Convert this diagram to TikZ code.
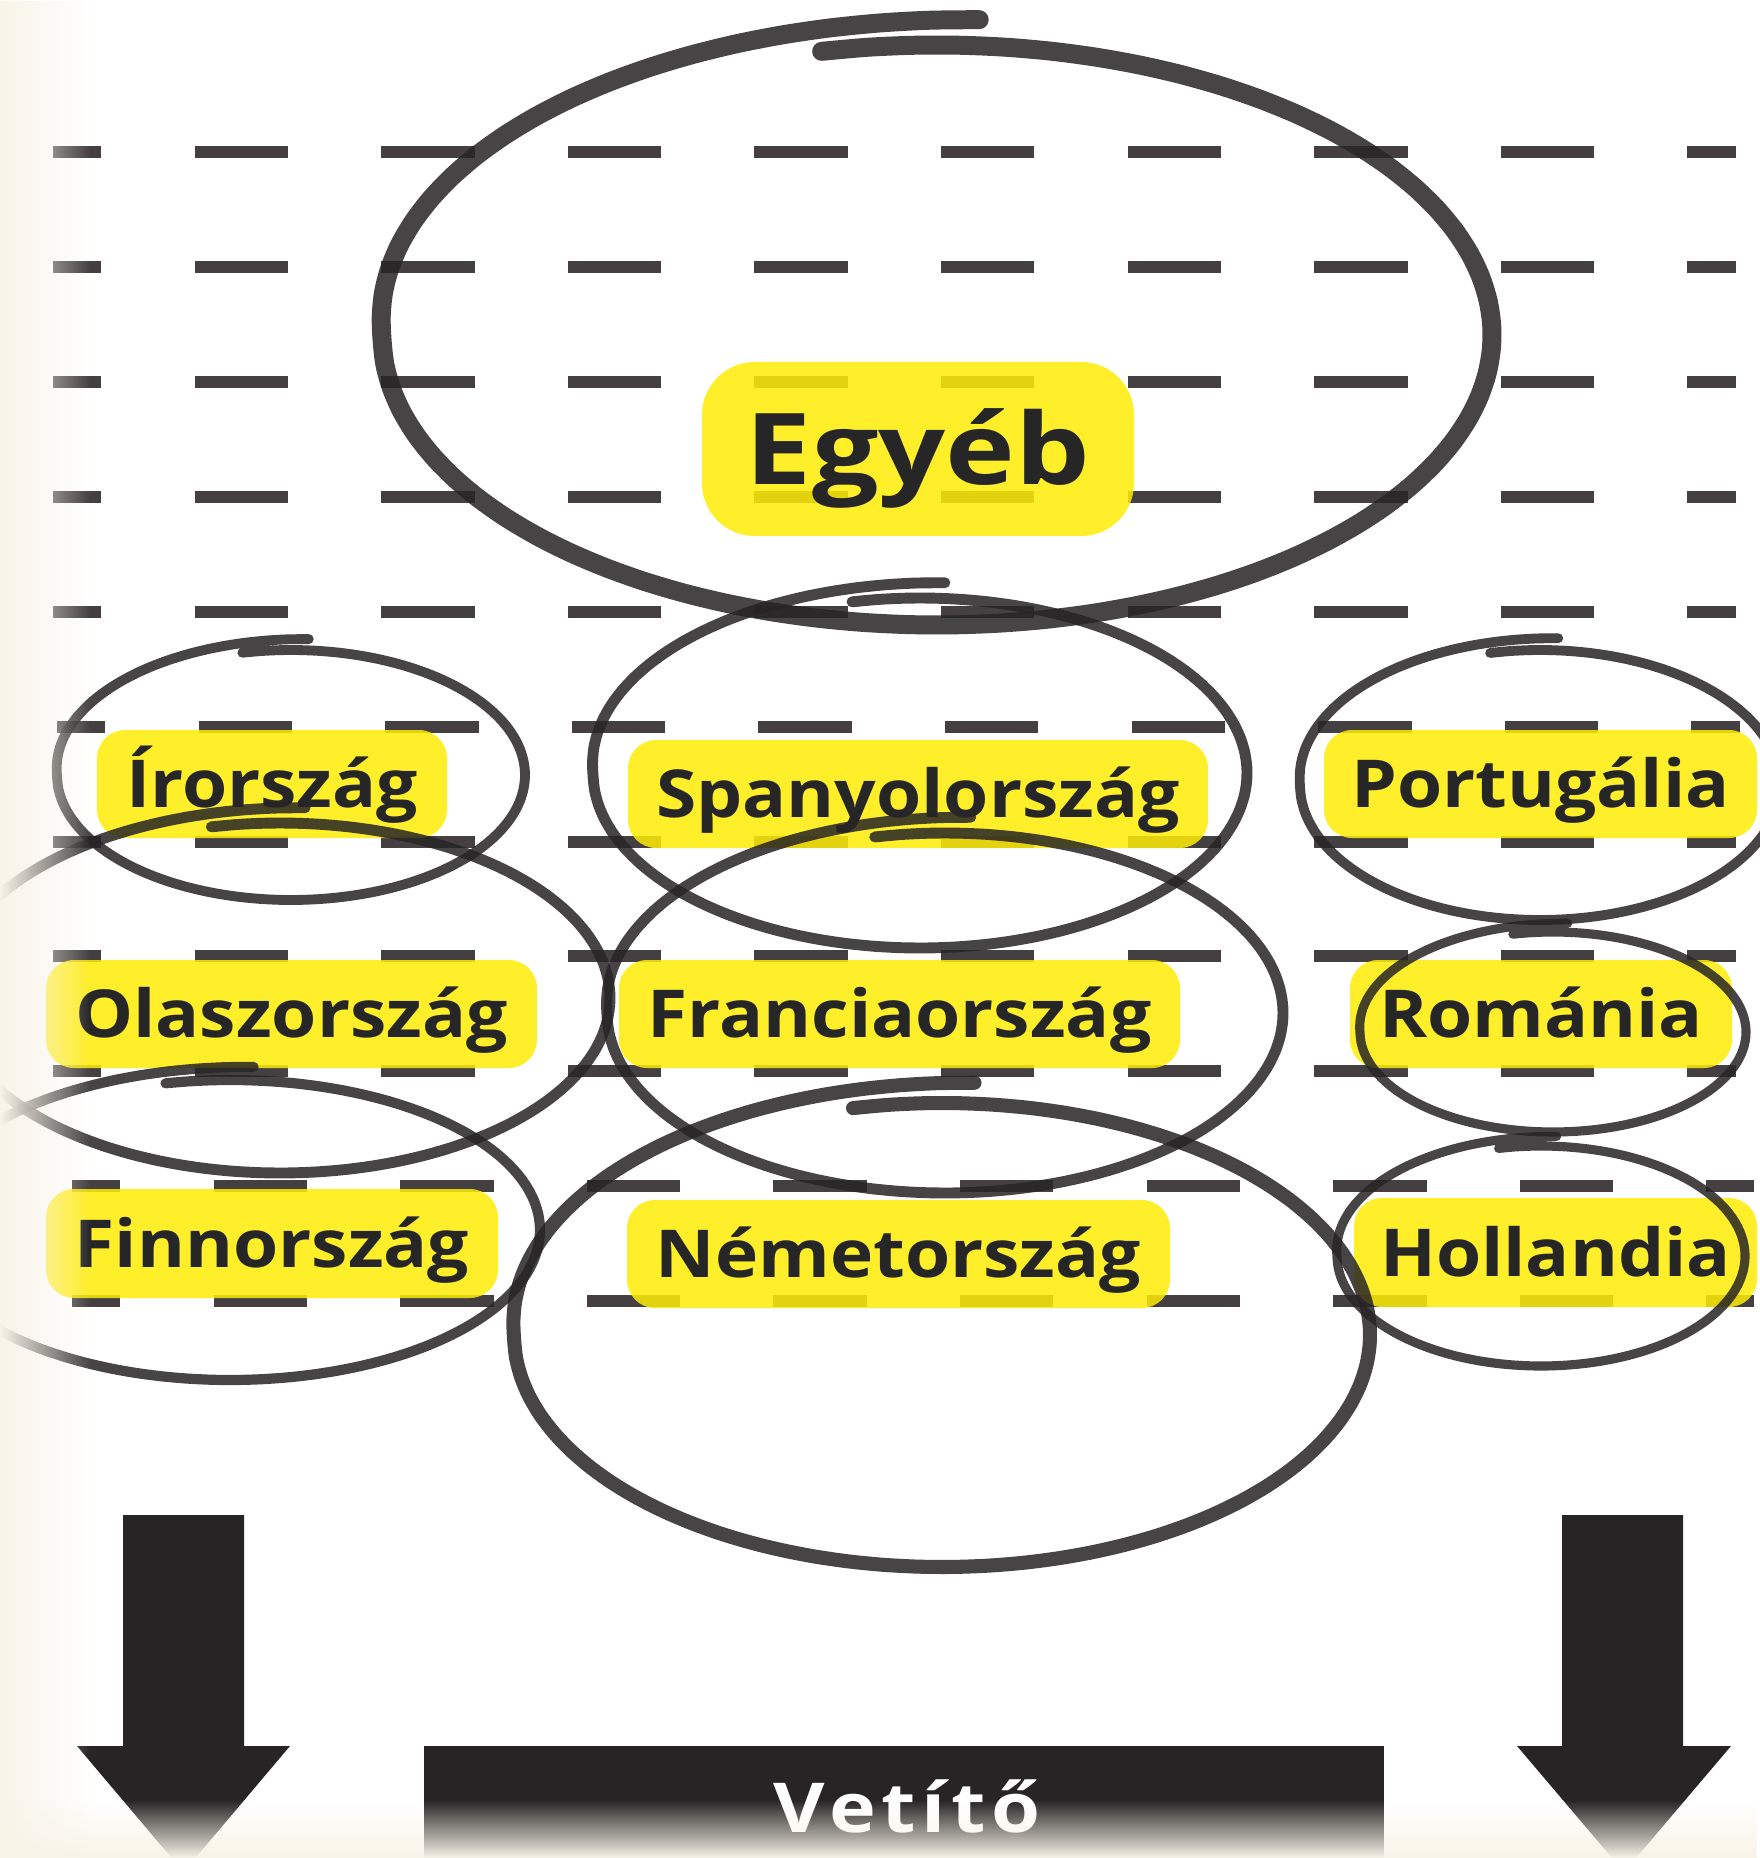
\documentclass[tikz,border=0pt]{standalone}
\usepackage{fontspec}
\setmainfont{Open Sans}
\newfontfamily\tagfont{Open Sans}[FakeStretch=1.106]
\newfontfamily\bigtagfont{Open Sans}[FakeStretch=1.19]
\newfontfamily\barfont{Open Sans}[FakeStretch=1.15, LetterSpace=8]
\usetikzlibrary{fadings}

\definecolor{ink}{HTML}{262425}
\definecolor{dashgray}{HTML}{444042}
\definecolor{tagyellow}{HTML}{FFEC05}
\definecolor{cream}{HTML}{F9F4E8}
\definecolor{textgray}{HTML}{262626}

\tikzset{
  dashbar/.style={draw=dashgray, line width=3.56pt, line cap=butt,
    dash pattern=on 9.33mm off 9.33mm, dash phase=4.5mm},
  tag/.style={rounded corners=8pt, fill=tagyellow, fill opacity=0.85, text opacity=1,
    text=textgray, inner sep=0pt, font=\fontsize{18.8pt}{20pt}\tagfont\bfseries,
    text height=13.4pt, text depth=0pt, minimum height=10.8mm},
  brush/.style={draw=ink, draw opacity=0.85, line cap=round, line join=round},
  bigarrow/.style={fill=ink}
}

\begin{document}
\begin{tikzpicture}[x=0.1mm,y=-0.1mm]
\useasboundingbox (0,0) rectangle (1759,1858);
\fill[white] (0,0) rectangle (1759,1858);

% dashed lines
\foreach \y in {152,267,382,497,612,842,956,1071}
  \draw[dashbar] (53,\y) -- (1736,\y);
\draw[dashbar] (57,727) -- (1740,727);
\draw[dashbar] (72,1186) -- (1754,1186);
\draw[dashbar] (72,1301) -- (1754,1301);

% labels
\node[tag, minimum width=43.2mm, minimum height=17.4mm, rounded corners=15pt,
  font=\fontsize{28.2pt}{30pt}\bigtagfont\bfseries, text height=20.1pt] (egyeb) at (918,449) {Egyéb};
\node[tag, minimum width=35.0mm] (irorszag) at (272,784) {Írország};
\node[tag, minimum width=58.0mm] (spanyol) at (918,794) {Spanyolország};
\node[tag, minimum width=43.3mm] (portugal) at (1540.5,784) {Portugália};
\node[tag, minimum width=49.1mm] (olasz) at (291.5,1014) {Olaszország};
\node[tag, minimum width=56.1mm] (francia) at (899.5,1014) {Franciaország};
\node[tag, minimum width=38.2mm] (romania) at (1541,1014) {Románia};
\node[tag, minimum width=45.2mm, minimum height=10.9mm] (finn) at (272,1243.5) {Finnország};
\node[tag, minimum width=54.3mm] (nemet) at (898.5,1254) {Németország};
\node[tag, minimum width=40.3mm, minimum height=10.9mm] (holland) at (1555.5,1252.5) {Hollandia};

% hand drawn rings
\foreach \cx/\cy/\rx/\ry/\lw in {937/335/555/290/5.4, 291/775/234/125/2.8,
    920/773/327/175/3.1, 1540/785/240/135/2.8, 280/998/330/175/3.1,
    945/1013/338/180/3.1, 1553/1032/193/100/2.6, 230/1230/310/150/2.9,
    942/1335/428/232/4.0, 1541/1256/204/110/2.6}
  \draw[brush, line width=\lw pt] plot[smooth, domain=258:634, samples=80, variable=\t]
    ({\cx+\rx*(1+0.09*max(0,\t-540)/94)*cos(\t)}, {\cy+\ry*(1+0.09*max(0,\t-540)/94)*sin(\t)});

% arrows and projector
\fill[bigarrow] (123,1515) -- (244,1515) -- (244,1746) -- (290,1746) -- (183.5,1872)
  -- (77,1746) -- (123,1746) -- cycle;
\fill[bigarrow] (1562,1515) -- (1683,1515) -- (1683,1746) -- (1731,1746) -- (1624,1872)
  -- (1517,1746) -- (1562,1746) -- cycle;
\fill[ink] (424,1746) rectangle (1384,1880);
\node[text=white, inner sep=0pt, font=\fontsize{19.6pt}{22pt}\barfont\bfseries,
  text height=14pt, text depth=0pt] (vetito) at (907,1808) {Vetítő};

% paper edge
\fill[cream, path fading=east] (0,0) rectangle (90,1858);
\fill[cream, path fading=north] (0,1800) rectangle (1759,1858);
\end{tikzpicture}
\end{document}
